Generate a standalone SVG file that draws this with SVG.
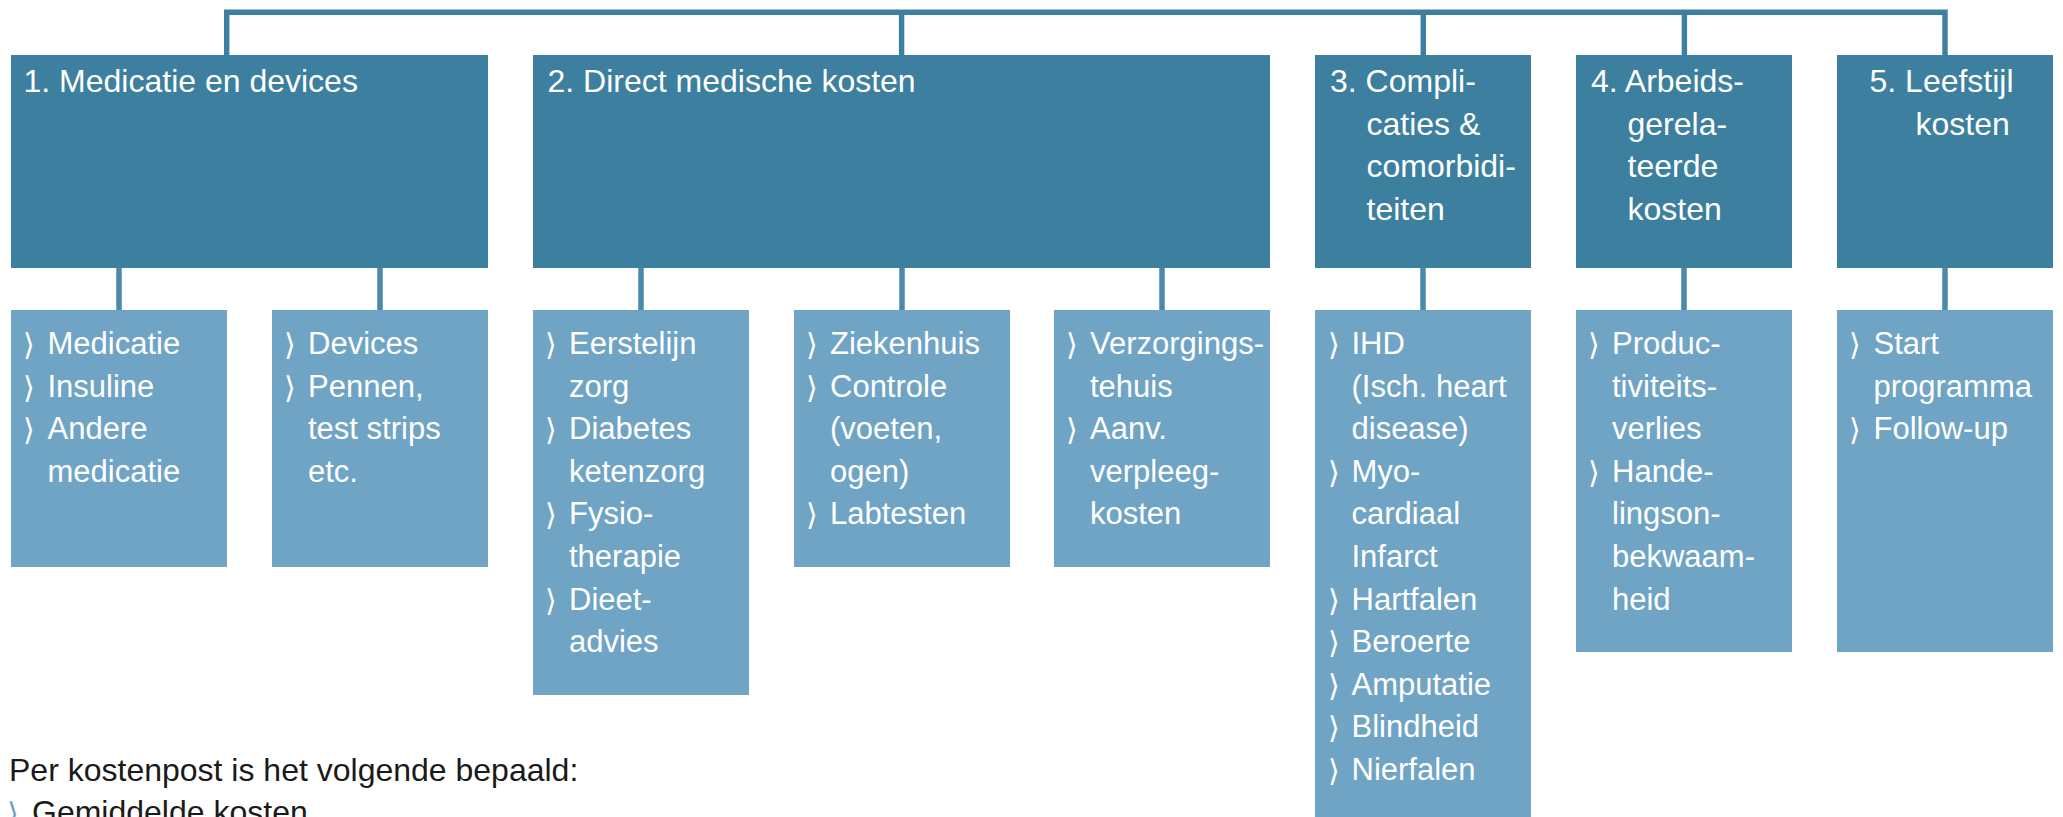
<svg xmlns="http://www.w3.org/2000/svg" width="2063" height="817" viewBox="0 0 2063 817">
<style>
.hdr{fill:#3c7f9e}
.sub{fill:#6fa4c5}
.t{font-family:"Liberation Sans",Arial,sans-serif;font-size:31px;fill:#ffffff}
.h{font-size:32px}
.b{font-family:"DejaVu Sans",sans-serif;font-size:30px;fill:#ffffff}
.top{fill:none;stroke:#3c7f9e;stroke-width:5.4}
.low{fill:none;stroke:#4b89ab;stroke-width:5.5}
.note{font-family:"Liberation Sans",Arial,sans-serif;font-size:32px;fill:#1a1a1a}
</style>
<rect width="2063" height="817" fill="#ffffff"/>
<g id="connectors">
<path class="top" d="M226.7 55 V12.3 H1945 V55 M901.6 12.3 V55 M1423.3 12.3 V55 M1684.4 12.3 V55"/>
<path class="low" d="M119 268 V310 M380 268 V310 M641 268 V310 M902 268 V310 M1162 268 V310 M1423 268 V310 M1684 268 V310 M1945 268 V310"/>
</g>
<g id="n1"><rect class="hdr" x="11" y="55" width="477" height="213"/><text class="t h" x="23.5" y="92">1. Medicatie en devices</text></g>
<g id="n2"><rect class="hdr" x="533" y="55" width="737" height="213"/><text class="t h" x="547.5" y="92">2. Direct medische kosten</text></g>
<g id="n3"><rect class="hdr" x="1315" y="55" width="216" height="213"/><text class="t h"><tspan x="1330" y="92">3. Compli-</tspan><tspan x="1366.5" y="134.5">caties &amp;</tspan><tspan x="1366.5" y="177">comorbidi-</tspan><tspan x="1366.5" y="219.5">teiten</tspan></text></g>
<g id="n4"><rect class="hdr" x="1576" y="55" width="216" height="213"/><text class="t h"><tspan x="1591" y="92">4. Arbeids-</tspan><tspan x="1627.5" y="134.5">gerela-</tspan><tspan x="1627.5" y="177">teerde</tspan><tspan x="1627.5" y="219.5">kosten</tspan></text></g>
<g id="n5"><rect class="hdr" x="1837" y="55" width="216" height="213"/><text class="t h"><tspan x="1869.5" y="92">5. Leefstijl</tspan><tspan x="1915.5" y="134.5">kosten</tspan></text></g>

<g id="s1a"><rect class="sub" x="11" y="310" width="216" height="257"/>
<text class="b"><tspan x="23" y="355">⟩</tspan><tspan x="23" y="397.6">⟩</tspan><tspan x="23" y="440.2">⟩</tspan></text>
<text class="t"><tspan x="47.5" y="354">Medicatie</tspan><tspan x="47.5" y="396.6">Insuline</tspan><tspan x="47.5" y="439.2">Andere</tspan><tspan x="47.5" y="481.8">medicatie</tspan></text></g>

<g id="s1b"><rect class="sub" x="272" y="310" width="216" height="257"/>
<text class="b"><tspan x="284" y="355">⟩</tspan><tspan x="284" y="397.6">⟩</tspan></text>
<text class="t"><tspan x="308" y="354">Devices</tspan><tspan x="308" y="396.6">Pennen,</tspan><tspan x="308" y="439.2">test strips</tspan><tspan x="308" y="481.8">etc.</tspan></text></g>

<g id="s2a"><rect class="sub" x="533" y="310" width="216" height="385"/>
<text class="b"><tspan x="545" y="355">⟩</tspan><tspan x="545" y="440.2">⟩</tspan><tspan x="545" y="525.4">⟩</tspan><tspan x="545" y="610.6">⟩</tspan></text>
<text class="t"><tspan x="569" y="354">Eerstelijn</tspan><tspan x="569" y="396.6">zorg</tspan><tspan x="569" y="439.2">Diabetes</tspan><tspan x="569" y="481.8">ketenzorg</tspan><tspan x="569" y="524.4">Fysio-</tspan><tspan x="569" y="567">therapie</tspan><tspan x="569" y="609.6">Dieet-</tspan><tspan x="569" y="652.2">advies</tspan></text></g>

<g id="s2b"><rect class="sub" x="794" y="310" width="216" height="257"/>
<text class="b"><tspan x="806" y="355">⟩</tspan><tspan x="806" y="397.6">⟩</tspan><tspan x="806" y="525.4">⟩</tspan></text>
<text class="t"><tspan x="830" y="354">Ziekenhuis</tspan><tspan x="830" y="396.6">Controle</tspan><tspan x="830" y="439.2">(voeten,</tspan><tspan x="830" y="481.8">ogen)</tspan><tspan x="830" y="524.4">Labtesten</tspan></text></g>

<g id="s2c"><rect class="sub" x="1054" y="310" width="216" height="257"/>
<text class="b"><tspan x="1066" y="355">⟩</tspan><tspan x="1066" y="440.2">⟩</tspan></text>
<text class="t"><tspan x="1090" y="354">Verzorgings-</tspan><tspan x="1090" y="396.6">tehuis</tspan><tspan x="1090" y="439.2">Aanv.</tspan><tspan x="1090" y="481.8">verpleeg-</tspan><tspan x="1090" y="524.4">kosten</tspan></text></g>

<g id="s3"><rect class="sub" x="1315" y="310" width="216" height="520"/>
<text class="b"><tspan x="1328" y="355">⟩</tspan><tspan x="1328" y="482.8">⟩</tspan><tspan x="1328" y="610.6">⟩</tspan><tspan x="1328" y="653.2">⟩</tspan><tspan x="1328" y="695.8">⟩</tspan><tspan x="1328" y="738.4">⟩</tspan><tspan x="1328" y="781">⟩</tspan></text>
<text class="t"><tspan x="1351.5" y="354">IHD</tspan><tspan x="1351.5" y="396.6">(Isch. heart</tspan><tspan x="1351.5" y="439.2">disease)</tspan><tspan x="1351.5" y="481.8">Myo-</tspan><tspan x="1351.5" y="524.4">cardiaal</tspan><tspan x="1351.5" y="567">Infarct</tspan><tspan x="1351.5" y="609.6">Hartfalen</tspan><tspan x="1351.5" y="652.2">Beroerte</tspan><tspan x="1351.5" y="694.8">Amputatie</tspan><tspan x="1351.5" y="737.4">Blindheid</tspan><tspan x="1351.5" y="780">Nierfalen</tspan></text></g>

<g id="s4"><rect class="sub" x="1576" y="310" width="216" height="342"/>
<text class="b"><tspan x="1588" y="355">⟩</tspan><tspan x="1588" y="482.8">⟩</tspan></text>
<text class="t"><tspan x="1612" y="354">Produc-</tspan><tspan x="1612" y="396.6">tiviteits-</tspan><tspan x="1612" y="439.2">verlies</tspan><tspan x="1612" y="481.8">Hande-</tspan><tspan x="1612" y="524.4">lingson-</tspan><tspan x="1612" y="567">bekwaam-</tspan><tspan x="1612" y="609.6">heid</tspan></text></g>

<g id="s5"><rect class="sub" x="1837" y="310" width="216" height="342"/>
<text class="b"><tspan x="1849" y="355">⟩</tspan><tspan x="1849" y="440.2">⟩</tspan></text>
<text class="t"><tspan x="1873.5" y="354">Start</tspan><tspan x="1873.5" y="396.6">programma</tspan><tspan x="1873.5" y="439.2">Follow-up</tspan></text></g>

<g id="note">
<text class="note" x="9" y="780.5">Per kostenpost is het volgende bepaald:</text>
<text class="b" x="7" y="824" style="fill:#6fa4c5">⟩</text>
<text class="note" x="32" y="823">Gemiddelde kosten</text>
</g>
</svg>
